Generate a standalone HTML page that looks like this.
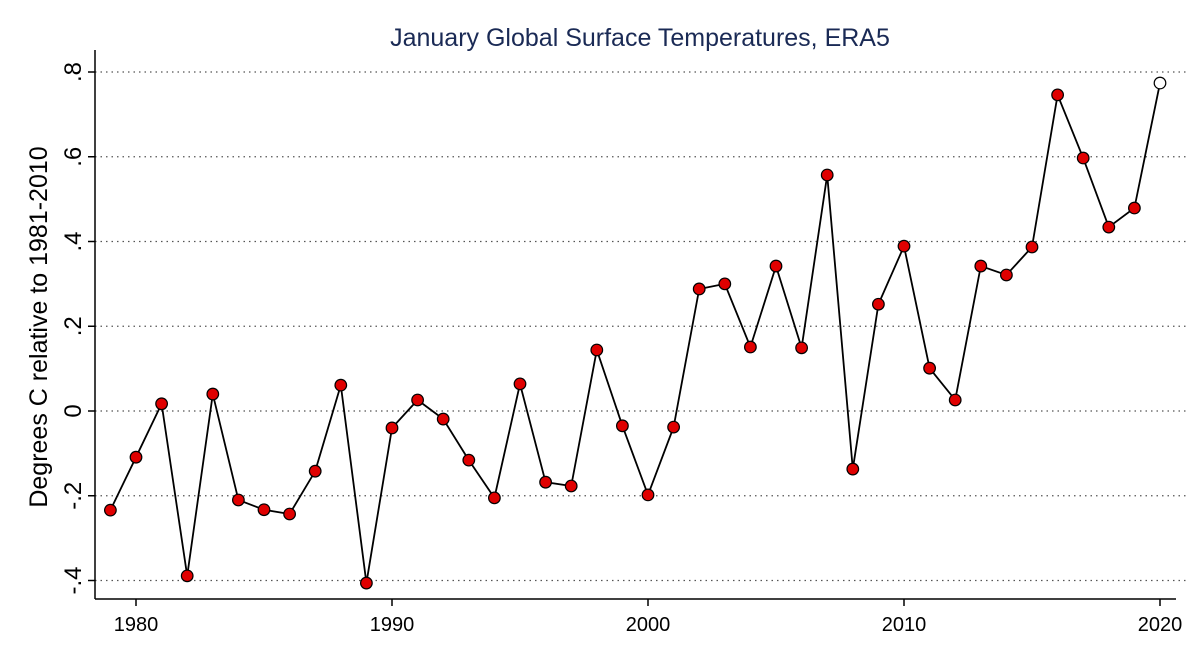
<!DOCTYPE html>
<html><head><meta charset="utf-8"><style>
body{margin:0;background:#fff;}
svg{display:block;font-family:"Liberation Sans",sans-serif;}
</style></head><body>
<svg id="chart" width="1200" height="667">
<text x="640" y="46" text-anchor="middle" font-size="25" fill="#1a2a55">January Global Surface Temperatures, ERA5</text>
<text transform="translate(47,327) rotate(-90)" text-anchor="middle" font-size="25" fill="#000">Degrees C relative to 1981-2010</text>
<g id="grid"></g><g id="axes"></g><g id="series"></g>
</svg>
<script>
const years=[1979,1980,1981,1982,1983,1984,1985,1986,1987,1988,1989,1990,1991,1992,1993,1994,1995,1996,1997,1998,1999,2000,2001,2002,2003,2004,2005,2006,2007,2008,2009,2010,2011,2012,2013,2014,2015,2016,2017,2018,2019,2020];
const values=[-0.234,-0.109,0.017,-0.389,0.04,-0.21,-0.233,-0.243,-0.142,0.061,-0.406,-0.04,0.026,-0.019,-0.116,-0.205,0.064,-0.168,-0.177,0.144,-0.035,-0.198,-0.038,0.288,0.30,0.151,0.342,0.149,0.557,-0.137,0.252,0.389,0.101,0.026,0.342,0.321,0.387,0.746,0.597,0.434,0.479,0.774];
const yTicks=[-0.4,-0.2,0,0.2,0.4,0.6,0.8];
const yTickLabels=["-.4","-.2","0",".2",".4",".6",".8"];
const xTicks=[1980,1990,2000,2010,2020];
const NS="http://www.w3.org/2000/svg";
const X=v=>136+(v-1980)*25.6;
const Y=v=>411-v*423.75;
function mk(t,a,p){const e=document.createElementNS(NS,t);for(const k in a)e.setAttribute(k,a[k]);p.appendChild(e);return e;}
const grid=document.getElementById('grid'),axes=document.getElementById('axes'),ser=document.getElementById('series');
yTicks.forEach((t,i)=>{
 const g=mk('line',{x1:95,x2:1186,y1:Y(t),y2:Y(t),stroke:'#555','stroke-width':1.2,'stroke-dasharray':'1.5 4'},grid);
 
 
 mk('line',{x1:88,x2:95,y1:Y(t),y2:Y(t),stroke:'#000','stroke-width':1.5},axes);
 const tx=mk('text',{transform:`translate(81,${Y(t)}) rotate(-90)`,'text-anchor':'middle','font-size':24},axes);
 tx.textContent=yTickLabels[i];
 
 
});
mk('line',{x1:95,x2:95,y1:50,y2:599,stroke:'#000','stroke-width':1.5},axes);
mk('line',{x1:95,x2:1176,y1:599,y2:599,stroke:'#000','stroke-width':1.5},axes);
xTicks.forEach(t=>{
 mk('line',{x1:X(t),x2:X(t),y1:599,y2:606,stroke:'#000','stroke-width':1.5},axes);
 const tx=mk('text',{x:X(t),y:631,'text-anchor':'middle','font-size':20},axes);
 tx.textContent=t;
 
 
});
const pl=mk('polyline',{points:years.map((y,i)=>X(y)+','+Y(values[i])).join(' '),fill:'none',stroke:'#000','stroke-width':1.8},ser);


years.forEach((y,i)=>{
 const last=i===years.length-1;
 const c=mk('circle',{cx:X(y),cy:Y(values[i]),r:5.8,fill:last?'#fff':'#e00000',stroke:'#000','stroke-width':1.2},ser);
 
 
});
</script>
</body></html>
